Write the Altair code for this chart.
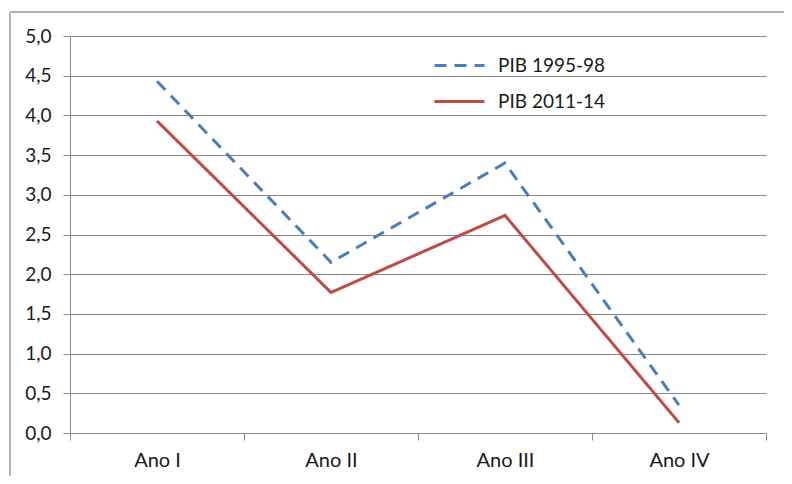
import altair as alt
import pandas as pd

anos = ["Ano I", "Ano II", "Ano III", "Ano IV"]
pib_1995_98 = [4.43, 2.15, 3.40, 0.35]
pib_2011_14 = [3.93, 1.77, 2.74, 0.13]
series_names = ["PIB 1995-98", "PIB 2011-14"]
y_ticks = [0, 0.5, 1, 1.5, 2, 2.5, 3, 3.5, 4, 4.5, 5]

rows = []
for a, v in zip(anos, pib_1995_98):
    rows.append({"ano": a, "serie": series_names[0], "valor": v})
for a, v in zip(anos, pib_2011_14):
    rows.append({"ano": a, "serie": series_names[1], "valor": v})
df = pd.DataFrame(rows)

FONT = "Lato"
GRID = "#8a8a8a"

legend_opts = dict(title=None, orient="none", legendX=378, legendY=18,
                   symbolType="M-2.5,0H2.5", symbolSize=400,
                   symbolStrokeWidth=3, rowPadding=14,
                   labelFontSize=19, labelFont=FONT,
                   labelColor="#1a1a1a", labelOffset=27)

lines = alt.Chart(df).mark_line(strokeWidth=3).encode(
    x=alt.X("ano:N", sort=anos, bandPosition=0.5,
            scale=alt.Scale(type="band", paddingInner=0, paddingOuter=0),
            axis=alt.Axis(title=None, labelAngle=0, tickBand="extent", grid=False,
                          domainColor=GRID, tickColor=GRID, tickSize=7,
                          labelPadding=10, labelFontSize=20, labelFont=FONT,
                          labelColor="#1a1a1a")),
    y=alt.Y("valor:Q",
            scale=alt.Scale(domain=[0, 5], nice=False, zero=True),
            axis=alt.Axis(title=None, values=y_ticks, grid=True, gridColor=GRID,
                          domainColor=GRID, tickColor=GRID, tickSize=7,
                          labelPadding=12, labelFontSize=19, labelFont=FONT,
                          labelColor="#1a1a1a",
                          labelExpr="replace(format(datum.value, '.1f'), '.', ',')")),
    color=alt.Color("serie:N",
                    scale=alt.Scale(domain=series_names, range=["#4a7ebb", "#be4b48"]),
                    legend=alt.Legend(**legend_opts)),
    strokeDash=alt.StrokeDash("serie:N",
                              scale=alt.Scale(domain=series_names, range=[[12, 8], [1, 0]]),
                              legend=alt.Legend(**legend_opts)),
)

frame_left = alt.Chart(df).mark_rule(color="#b4b4b4", strokeWidth=2).encode(
    x=alt.value(-60), y=alt.value(-24), y2=alt.value(520))
frame_top = alt.Chart(df).mark_rule(color="#b4b4b4", strokeWidth=2).encode(
    x=alt.value(-60), x2=alt.value(760), y=alt.value(-24))

chart = alt.layer(frame_left, frame_top, lines).properties(
    width=696, height=397,
    autosize=alt.AutoSizeParams(type="none"),
    padding={"left": 62, "top": 28, "right": 18, "bottom": 43},
    background="white",
).configure_view(strokeWidth=0)

chart.save("out.html", embed_options={"renderer": "svg", "actions": False})
